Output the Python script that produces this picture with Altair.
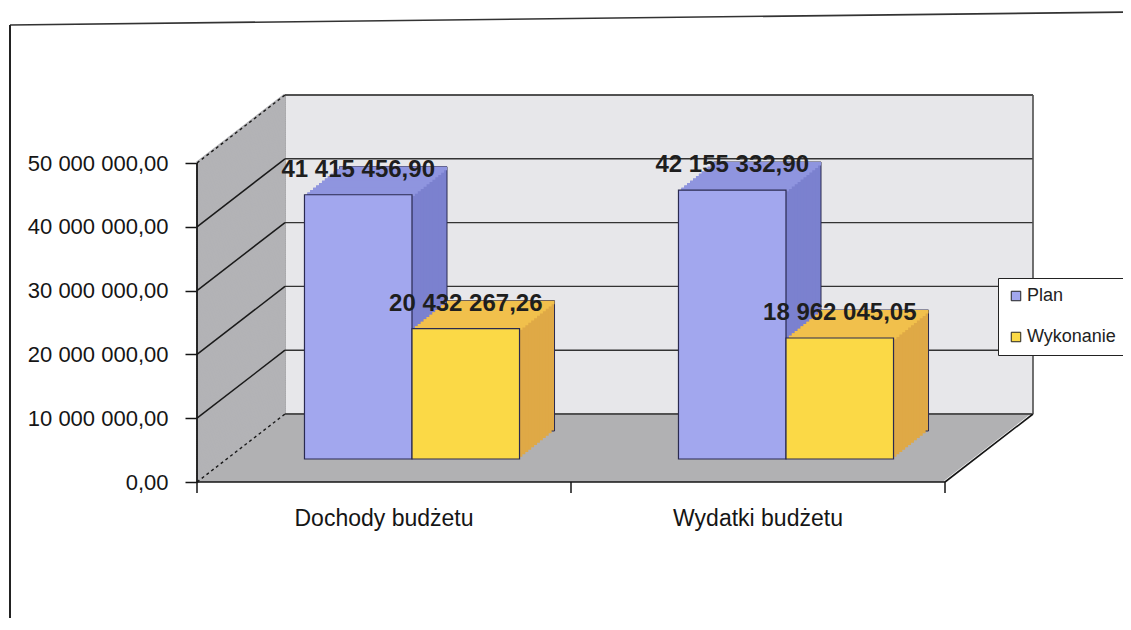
import altair as alt
import pandas as pd

# ---------------- data ----------------
categories = ["Dochody budżetu", "Wydatki budżetu"]
series = ["Plan", "Wykonanie"]
plan = [41415456.90, 42155332.90]
wykonanie = [20432267.26, 18962045.05]
y_ticks = [0, 10000000, 20000000, 30000000, 40000000, 50000000]

# ---------------- style ----------------
front_colors = ["#a2a7ee", "#fbd946"]
top_colors = ["#8f95df", "#f1c04c"]
side_colors = ["#7b81cf", "#dfa946"]
FONT = "Liberation Sans, Arial, sans-serif"
INK = "#151515"

W = 748          # front plane width (px)
DXP = 88         # depth shift in x (px)
H = 387          # view height (px)
YTOP = 50000000
YMAX = YTOP * H / 319.0
DY = 68 * YTOP / 319.0     # depth shift in y, in data units
XS, YS = 28, 23            # bar position inside depth (px)
BDX, BDY = 35, 28          # bar depth (px)
N = 12
PAD_IN, PAD_OUT = 0.425, 0.2125
STEP = W / (len(categories) - PAD_IN + 2 * PAD_OUT)
BW = STEP * (1 - PAD_IN) / len(series)


def pl(v):
    return f"{v:,.2f}".replace(",", " ").replace(".", ",")


rows = []
for i, c in enumerate(categories):
    rows.append({"kat": c, "seria": series[0], "v": plan[i], "base": 0, "lab": pl(plan[i])})
    rows.append({"kat": c, "seria": series[1], "v": wykonanie[i], "base": 0, "lab": pl(wykonanie[i])})
bars = pd.DataFrame(rows)
ticks = pd.DataFrame({"v": y_ticks})
one = pd.DataFrame({"z": [0]})

# decoration fills (diagonal hatching that paints the 3-D walls)
wall_steps = pd.DataFrame({"v": [YTOP * i / 170.0 for i in range(171)]})
cover_steps = pd.DataFrame({"u": [DY * i / 40.0 for i in range(41)]})

Y_SCALE = alt.Scale(domain=[0, YMAX], nice=False, zero=True)
Y_AX = alt.Axis(
    values=y_ticks, title=None, grid=False, domain=False,
    labelExpr="replace(replace(format(datum.value, ',.2f'), regexp(',', 'g'), ' '), '.', ',')",
    tickSize=12, tickColor=INK, tickWidth=1.5, labelPadding=17,
    labelFont=FONT, labelFontSize=22, labelColor=INK, labelLimit=0)
X_BAND = alt.Scale(domain=categories, range=[0, W], paddingInner=PAD_IN, paddingOuter=PAD_OUT)
X_AX = alt.Axis(title=None, labelAngle=0, ticks=False, domain=False, labelLimit=0,
                labelPadding=25, labelFont=FONT, labelFontSize=23, labelColor=INK)
XK = alt.X("kat:N", sort=categories, scale=X_BAND, axis=X_AX)


def Yf(field):
    return alt.Y(field, scale=Y_SCALE, axis=Y_AX)


def Yd(value):
    return alt.YDatum(value, scale=Y_SCALE, axis=Y_AX)


def ser(j):
    return alt.Chart(bars).transform_filter(alt.datum.seria == series[j])


layers = []

# outer frame of the scanned page
layers.append(alt.Chart(one).mark_rule(color="#333", strokeWidth=1.6).encode(
    x=alt.value(-187), x2=alt.value(940), y=alt.value(-70), y2=alt.value(-83)))
layers.append(alt.Chart(one).mark_rule(color="#222", strokeWidth=2).encode(
    x=alt.value(-187), y=alt.value(-70), y2=alt.value(H + 200)))

# back wall
layers.append(alt.Chart(one).mark_rect(color="#e7e7ea", stroke="#666", strokeWidth=1).encode(
    x=alt.value(DXP), x2=alt.value(DXP + W), y=Yd(DY), y2=alt.datum(YTOP + DY)))

# floor
layers.append(alt.Chart(one).mark_rect(color="#b1b1b3").encode(
    x=alt.value(0), x2=alt.value(DXP + W), y=Yd(0), y2=alt.datum(DY)))
# white outside the floor's right edge
layers.append(alt.Chart(cover_steps).transform_calculate(
    u0="-datum.u", u1=f"{DY} - datum.u").mark_rule(color="white", strokeWidth=3).encode(
    x=alt.value(W), x2=alt.value(W + DXP), y=Yf("u0:Q"), y2="u1:Q"))

# left wall (dense diagonals)
layers.append(alt.Chart(wall_steps).transform_calculate(yb=f"datum.v + {DY}").mark_rule(
    color="#b3b3b6", strokeWidth=3).encode(
    x=alt.value(0), x2=alt.value(DXP), y=Yf("v:Q"), y2="yb:Q"))

# back wall gridlines
layers.append(alt.Chart(ticks).transform_calculate(yb=f"datum.v + {DY}").mark_rule(
    color="#333", strokeWidth=1.4).encode(
    x=alt.value(DXP), x2=alt.value(DXP + W), y=Yf("yb:Q")))

# left wall gridlines
layers.append(alt.Chart(ticks).transform_filter(f"datum.v > 0 && datum.v < {YTOP}")
              .transform_calculate(yb=f"datum.v + {DY}").mark_rule(
    color="#1a1a1a", strokeWidth=1.5).encode(
    x=alt.value(0), x2=alt.value(DXP), y=Yf("v:Q"), y2="yb:Q"))
layers.append(alt.Chart(ticks).transform_filter(f"datum.v == 0 || datum.v == {YTOP}")
              .transform_calculate(yb=f"datum.v + {DY}").mark_rule(
    color="#1a1a1a", strokeWidth=1.4, strokeDash=[3, 3]).encode(
    x=alt.value(0), x2=alt.value(DXP), y=Yf("v:Q"), y2="yb:Q"))

# front value axis line
axline = pd.DataFrame({"a": [0], "b": [YTOP]})
layers.append(alt.Chart(axline).mark_rule(color=INK, strokeWidth=1.8).encode(
    x=alt.value(0), y=Yf("a:Q"), y2="b:Q"))

# frame edges
layers.append(alt.Chart(one).mark_rule(color=INK, strokeWidth=1.6).encode(
    x=alt.value(0), x2=alt.value(W), y=Yd(0)))
layers.append(alt.Chart(one).mark_rule(color=INK, strokeWidth=1.6).encode(
    x=alt.value(W), x2=alt.value(W + DXP), y=Yd(0), y2=alt.datum(DY)))
layers.append(alt.Chart(one).mark_rule(color="#555", strokeWidth=1.4).encode(
    x=alt.value(W + DXP), y=Yd(DY), y2=alt.datum(YTOP + DY)))
for tx in [0, W / 2, W]:
    layers.append(alt.Chart(one).mark_rule(color=INK, strokeWidth=1.5).encode(
        x=alt.value(tx), y=alt.value(H), y2=alt.value(H + 11)))

# 3-D bars: side extrusion
for k in range(N, 0, -1):
    sy = -(YS + k * BDY / N)
    for j in range(len(series)):
        sx = (j - 0.5) * BW + XS + k * BDX / N
        props = dict(width=BW, xOffset=sx, yOffset=sy, y2Offset=sy, color=side_colors[j])
        if k == N:
            props.update(stroke="#2a2a50", strokeWidth=1)
        layers.append(ser(j).mark_bar(**props).encode(
            x=XK, y=Yf("v:Q"), y2="base:Q"))

# top faces
for k in range(N, 0, -1):
    sy = -(YS + k * BDY / N)
    for j in range(len(series)):
        sx = (j - 0.5) * BW + XS + k * BDX / N
        layers.append(ser(j).mark_bar(width=BW, xOffset=sx, yOffset=sy,
                                      y2Offset=sy + BDY / N + 1.2, color=top_colors[j]).encode(
            x=XK, y=Yf("v:Q"), y2="v:Q"))

# front faces (carry the legend)
LEG = alt.Legend(title=None, orient="none", legendX=801, legendY=183,
                 symbolType="square", symbolSize=90,
                 symbolStrokeColor="#222", symbolStrokeWidth=1,
                 labelFont=FONT, labelFontSize=18, labelColor="#222",
                 labelOffset=2, rowPadding=23, padding=9,
                 fillColor="white", strokeColor="#222")
for j in range(len(series)):
    sx = (j - 0.5) * BW + XS
    layers.append(ser(j).mark_bar(width=BW, xOffset=sx, yOffset=-YS, y2Offset=-YS,
                                  stroke="#2a2a50", strokeWidth=1.2).encode(
        x=XK, y=Yf("v:Q"), y2="base:Q",
        color=alt.Color("seria:N", scale=alt.Scale(domain=series, range=front_colors), legend=LEG)))

# value labels
for j in range(len(series)):
    sx = (j - 0.5) * BW + XS
    layers.append(ser(j).mark_text(xOffset=sx, dy=-48, fontWeight="bold", font=FONT, fontSize=24,
                                   color="#1e1e1e", baseline="middle").encode(
        x=XK, y=Yf("v:Q"), text="lab:N"))

chart = alt.layer(*layers).properties(
    width=W + DXP, height=H,
    padding={"left": 189, "top": 87, "right": 90, "bottom": 136},
    autosize=alt.AutoSizeParams(type="none"),
    background="white",
).configure_view(stroke=None)

chart.save("out.html", embed_options={"renderer": "svg", "actions": False})
